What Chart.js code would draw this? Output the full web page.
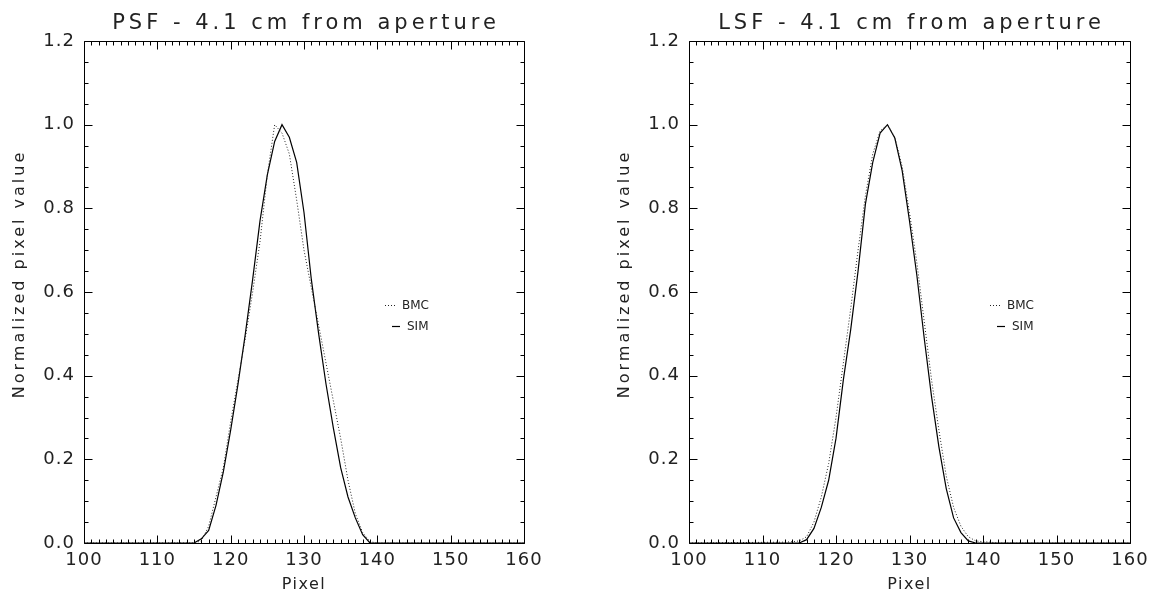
<!DOCTYPE html>
<html>
<head>
<meta charset="utf-8">
<title>PSF / LSF - 4.1 cm from aperture</title>
<script src="https://cdn.jsdelivr.net/npm/chart.js@4.4.1/dist/chart.umd.min.js"></script>
<style>
    html, body { margin: 0; padding: 0; background: #fff; }
    #wrap { display: flex; width: 1158px; height: 599px; }
    .panel { width: 579px; height: 599px; }
</style>
</head>
<body>
<div id="wrap">
    <div class="panel"><canvas id="psf-chart" width="579" height="599"></canvas></div>
    <div class="panel"><canvas id="lsf-chart" width="579" height="599"></canvas></div>
</div>
<script>
// Pixel positions and normalized values
const psfPixels = [100, 114, 115, 116, 117, 118, 119, 120, 121, 122, 123, 124, 125, 126, 127,
    128, 129, 130, 131, 132, 133, 134, 135, 136, 137, 138, 139, 140, 160];
const psfBmc = [0, 0, 0, 0.005, 0.04, 0.11, 0.18, 0.29, 0.39, 0.49, 0.60, 0.72, 0.88, 1.0, 0.98,
    0.93, 0.82, 0.70, 0.61, 0.52, 0.43, 0.34, 0.25, 0.15, 0.07, 0.025, 0.003, 0, 0];
const psfSim = [0, 0, 0, 0.01, 0.03, 0.09, 0.17, 0.27, 0.38, 0.50, 0.63, 0.77, 0.88, 0.96, 1.0,
    0.97, 0.91, 0.79, 0.63, 0.50, 0.38, 0.275, 0.18, 0.11, 0.06, 0.02, 0, 0, 0];

const lsfPixels = [100, 113, 114, 115, 116, 117, 118, 119, 120, 121, 122, 123, 124, 125, 126, 127,
    128, 129, 130, 131, 132, 133, 134, 135, 136, 137, 138, 139, 140, 141, 142, 160];
const lsfBmc = [0, 0.002, 0.003, 0.005, 0.015, 0.05, 0.11, 0.19, 0.30, 0.43, 0.56, 0.70, 0.83, 0.93, 0.985, 1.0,
    0.97, 0.90, 0.79, 0.67, 0.53, 0.39, 0.27, 0.16, 0.085, 0.04, 0.015, 0.005, 0.003, 0.002, 0, 0];
const lsfSim = [0, 0, 0, 0, 0.008, 0.035, 0.085, 0.15, 0.25, 0.39, 0.51, 0.65, 0.81, 0.91, 0.98, 1.0,
    0.968, 0.89, 0.77, 0.64, 0.49, 0.35, 0.23, 0.13, 0.06, 0.025, 0.005, 0, 0, 0, 0, 0];

const xTicks = [100, 110, 120, 130, 140, 150, 160];
const yTicks = [0.0, 0.2, 0.4, 0.6, 0.8, 1.0, 1.2];
const seriesNames = ['BMC', 'SIM'];

Chart.defaults.font.family = '"DejaVu Sans", sans-serif';
Chart.defaults.color = '#222';

/**
 * IDL-style frame: boxed axes with inward ticks on all sides, titles, legend
 */
const idlFrame = {
    id: 'idlFrame',
    beforeDraw(chart) {
        chart.ctx.letterSpacing = '1px';
    },
    afterDraw(chart, args, opts) {
        const { ctx, chartArea: a, scales: { x, y } } = chart;
        const L = Math.round(a.left) + 0.5, R = Math.round(a.right) + 0.5;
        const T = Math.round(a.top) + 0.5, B = Math.round(a.bottom) + 0.5;

        ctx.save();
        ctx.letterSpacing = '0px';
        ctx.strokeStyle = '#000';
        ctx.lineWidth = 1;
        ctx.setLineDash([]);
        ctx.beginPath();
        ctx.rect(L, T, R - L, B - T);

        // x ticks, minor every pixel
        for (let v = x.min; v <= x.max; v++) {
            const px = Math.round(x.getPixelForValue(v)) + 0.5;
            const len = xTicks.includes(v) ? 8 : 4;
            ctx.moveTo(px, B); ctx.lineTo(px, B - len);
            ctx.moveTo(px, T); ctx.lineTo(px, T + len);
        }
        // y ticks, minor every 0.05
        for (let i = 0; i <= 24; i++) {
            const py = Math.round(y.getPixelForValue(i * 0.05)) + 0.5;
            const len = i % 4 === 0 ? 8 : 4;
            ctx.moveTo(L, py); ctx.lineTo(L + len, py);
            ctx.moveTo(R, py); ctx.lineTo(R - len, py);
        }
        ctx.stroke();

        // legend
        ctx.fillStyle = '#222';
        ctx.font = '12px "DejaVu Sans"';
        ctx.textBaseline = 'middle';
        ctx.textAlign = 'left';
        chart.data.datasets.forEach((ds, i) => {
            const item = opts.legend[i];
            const yy = Math.round(a.top + item.y) + 0.5;
            ctx.strokeStyle = ds.borderColor;
            ctx.lineWidth = 1.2;
            ctx.setLineDash(ds.borderDash || []);
            ctx.beginPath();
            ctx.moveTo(a.left + item.x0, yy);
            ctx.lineTo(a.left + item.x1, yy);
            ctx.stroke();
            ctx.fillText(ds.label, a.left + item.tx, yy);
        });
        ctx.setLineDash([]);

        // titles
        const cx = (a.left + a.right) / 2;
        ctx.textAlign = 'center';
        ctx.font = '21px "DejaVu Sans"';
        ctx.letterSpacing = '4px';
        ctx.fillText(opts.title, cx + 2, 24);

        ctx.font = '16px "DejaVu Sans"';
        ctx.letterSpacing = '1.5px';
        ctx.fillText(opts.xTitle, cx, 585);

        ctx.letterSpacing = '3px';
        ctx.translate(opts.yTitleX, opts.yTitleY);
        ctx.rotate(-Math.PI / 2);
        ctx.fillText(opts.yTitle, 0, 0);
        ctx.restore();
    }
};

function makeChart(id, title, pixels, bmc, sim, axisWidth, padRight, yTitleX) {
    const ctx = document.getElementById(id);
    const toPoints = vals => pixels.map((p, i) => ({ x: p, y: vals[i] }));

    return new Chart(ctx, {
        type: 'line',
        data: {
            datasets: [
                {
                    label: seriesNames[0],
                    data: toPoints(bmc),
                    borderColor: '#222',
                    borderWidth: 1,
                    borderDash: [1, 2],
                    pointRadius: 0,
                    tension: 0
                },
                {
                    label: seriesNames[1],
                    data: toPoints(sim),
                    borderColor: '#000',
                    borderWidth: 1.2,
                    pointRadius: 0,
                    tension: 0
                }
            ]
        },
        options: {
            responsive: false,
            animation: false,
            devicePixelRatio: 1,
            layout: { padding: { top: 41, right: padRight, left: 0, bottom: 0 } },
            plugins: {
                legend: { display: false },
                title: { display: false },
                tooltip: { enabled: false },
                idlFrame: {
                    title: title,
                    xTitle: 'Pixel',
                    yTitle: 'Normalized pixel value',
                    yTitleX: yTitleX,
                    yTitleY: 274,
                    legend: [
                        { x0: 301, x1: 311, tx: 318, y: 264 },
                        { x0: 308, x1: 316, tx: 323, y: 285 }
                    ]
                }
            },
            scales: {
                x: {
                    type: 'linear',
                    min: xTicks[0],
                    max: xTicks[xTicks.length - 1],
                    afterBuildTicks: s => { s.ticks = xTicks.map(v => ({ value: v })); },
                    ticks: { font: { size: 18 }, padding: 7, maxRotation: 0, autoSkip: false },
                    grid: { display: false, drawTicks: false },
                    border: { display: false },
                    afterFit: s => { s.height = 56; }
                },
                y: {
                    type: 'linear',
                    min: yTicks[0],
                    max: yTicks[yTicks.length - 1],
                    afterBuildTicks: s => { s.ticks = yTicks.map(v => ({ value: v })); },
                    ticks: { font: { size: 18 }, padding: 9, callback: v => v.toFixed(1) },
                    grid: { display: false, drawTicks: false },
                    border: { display: false },
                    afterFit: s => { s.width = axisWidth; }
                }
            }
        },
        plugins: [idlFrame]
    });
}

makeChart('psf-chart', 'PSF - 4.1 cm from aperture', psfPixels, psfBmc, psfSim, 84, 55, 20);
makeChart('lsf-chart', 'LSF - 4.1 cm from aperture', lsfPixels, lsfBmc, lsfSim, 110, 28, 46);
</script>
</body>
</html>
